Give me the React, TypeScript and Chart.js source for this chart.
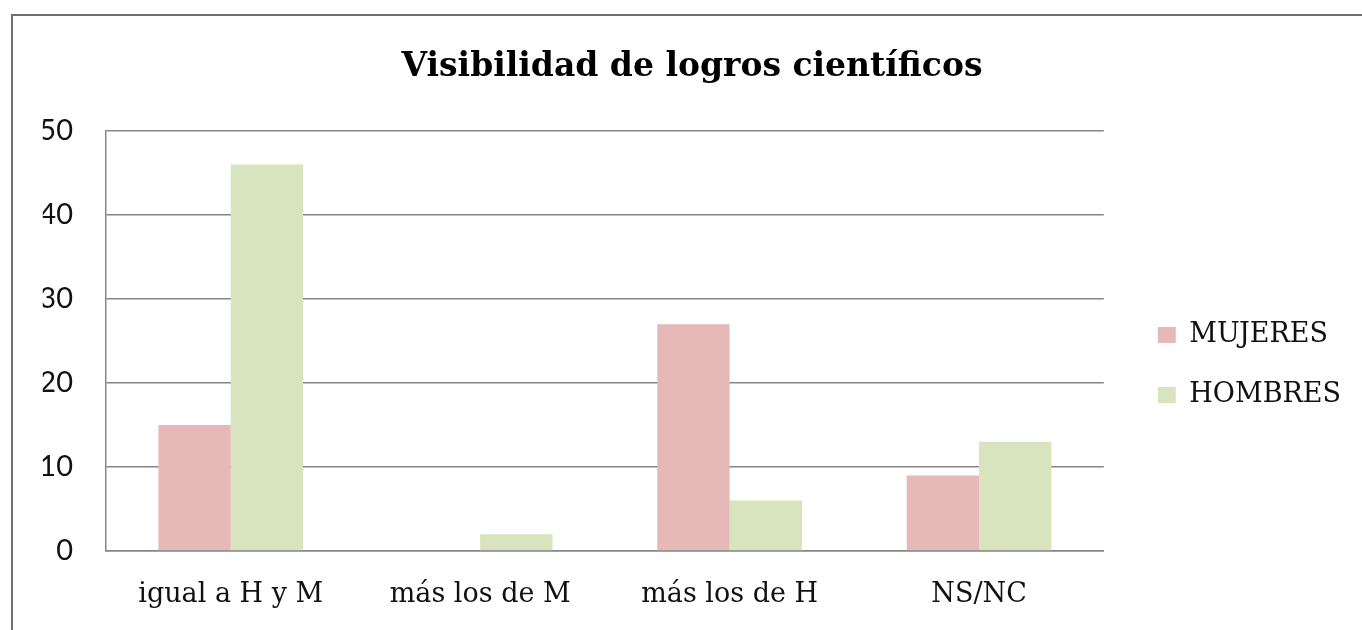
import React, { useEffect, useRef } from "react";
import { Chart, registerables } from "chart.js";

Chart.register(...registerables);

const titleText = "Visibilidad de logros científicos";
const categories = ["igual a H y M", "más los de M", "más los de H", "NS/NC"];
const seriesLabels = ["MUJERES", "HOMBRES"];
const mujeres = [15, 0, 27, 9];
const hombres = [46, 2, 6, 13];
const yTicks = [0, 10, 20, 30, 40, 50];

const PINK = "#E6B9B8";
const GREEN = "#D7E4BD";
const GRID = "#868686";
const TEXT = "#111111";
const SERIF = "'DejaVu Serif'";
const LEGEND_SIZE = 27;
const LEGEND_PAD = 33;
const LEGEND_BOX_W = 18;

const framePlugin = {
  id: "frame",
  beforeDraw(chart: any) {
    const ctx = chart.ctx;
    ctx.save();
    ctx.strokeStyle = "#707070";
    ctx.lineWidth = 2;
    ctx.beginPath();
    ctx.moveTo(12, chart.height);
    ctx.lineTo(12, 15);
    ctx.lineTo(chart.width, 15);
    ctx.stroke();
    ctx.restore();
  },
};

export default function App() {
  const ref = useRef<HTMLCanvasElement | null>(null);

  useEffect(() => {
    if (!ref.current) return;
    // measure legend width so the plot area and legend land where the reference has them
    const mctx = ref.current.getContext("2d")!;
    mctx.font = `${LEGEND_SIZE}px ${SERIF}`;
    const maxText = Math.max(...seriesLabels.map((t) => mctx.measureText(t).width));
    const legendWidth = LEGEND_PAD + LEGEND_BOX_W + LEGEND_SIZE / 2 + maxText + 1;
    const legendLeft = 1157 - LEGEND_PAD;
    const padRight = Math.max(0, 1362 - legendLeft - legendWidth);
    const padLeft = padRight + 22;
    const spacerW = legendLeft - 1103;

    const chart = new Chart(ref.current, {
      type: "bar",
      data: {
        labels: categories,
        datasets: [
          {
            label: seriesLabels[0],
            data: mujeres,
            backgroundColor: PINK,
            borderWidth: 0,
            categoryPercentage: 0.58,
            barPercentage: 1.0,
          },
          {
            label: seriesLabels[1],
            data: hombres,
            backgroundColor: GREEN,
            borderWidth: 0,
            categoryPercentage: 0.58,
            barPercentage: 1.0,
          },
        ],
      },
      options: {
        responsive: false,
        animation: false,
        layout: { padding: { top: 15, left: padLeft, right: padRight, bottom: 0 } },
        plugins: {
          title: {
            display: true,
            text: titleText,
            color: "#000",
            font: { family: SERIF, size: 33, weight: "bold", lineHeight: 1.2 },
            padding: { top: 33, bottom: 43.4 },
          },
          legend: {
            display: true,
            position: "right",
            fullSize: false,
            title: {
              display: true,
              text: " ",
              font: { size: 8, lineHeight: 1 },
              padding: { top: 40, bottom: 0 },
            },
            labels: {
              color: TEXT,
              font: { family: SERIF, size: LEGEND_SIZE },
              boxWidth: LEGEND_BOX_W,
              boxHeight: 16,
              padding: LEGEND_PAD,
            },
          },
          tooltip: { enabled: false },
        },
        scales: {
          x: {
            grid: { display: false, drawTicks: false },
            border: { display: true, color: GRID, width: 1.5 },
            ticks: {
              color: TEXT,
              font: { family: SERIF, size: 27 },
              padding: 28,
              maxRotation: 0,
              autoSkip: false,
            },
            afterFit: (s: any) => {
              s.height = 79;
            },
          },
          y: {
            min: 0,
            max: 50,
            afterBuildTicks: (s: any) => {
              s.ticks = yTicks.map((v) => ({ value: v }));
            },
            grid: { color: GRID, lineWidth: 1.5, drawTicks: false },
            border: { display: true, color: GRID, width: 1.5 },
            ticks: {
              color: TEXT,
              font: { family: "Lato", size: 29 },
              padding: 33,
            },
            afterFit: (s: any) => {
              s.width = 106 - padLeft;
            },
          },
          spacer: {
            type: "linear",
            position: "right",
            display: true,
            grid: { display: false, drawTicks: false },
            border: { display: false },
            ticks: { display: false },
            afterFit: (s: any) => {
              s.width = spacerW;
            },
          },
        },
      },
      plugins: [framePlugin],
    });
    return () => chart.destroy();
  }, []);

  return (
    <div style={{ position: "fixed", left: 0, top: 0, width: 1362, height: 630, background: "#fff" }}>
      <canvas ref={ref} width={1362} height={630} style={{ display: "block" }} />
    </div>
  );
}
